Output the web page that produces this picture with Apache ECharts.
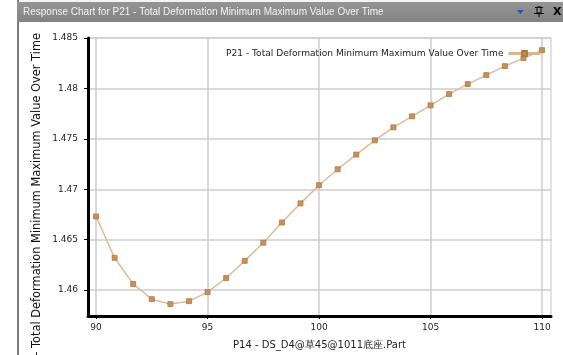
<!DOCTYPE html>
<html><head><meta charset="utf-8">
<script src="https://cdn.jsdelivr.net/npm/echarts@6/dist/echarts.min.js"></script>
<style>html,body{margin:0;padding:0;background:#fff}#c{width:563px;height:355px}</style>
</head><body><div id="c"></div>
<script>
const xValues = [90,90.8333,91.6667,92.5,93.3333,94.1667,95,95.8333,96.6667,97.5,98.3333,99.1667,100,100.8333,101.6667,102.5,103.3333,104.1667,105,105.8333,106.6667,107.5,108.3333,109.1667,110];
const yValues = [1.4673,1.4632,1.4606,1.4591,1.45861,1.4589,1.4598,1.4612,1.4629,1.4647,1.4667,1.4686,1.4704,1.47198,1.47344,1.47485,1.47614,1.47723,1.47832,1.47944,1.48043,1.48132,1.48221,1.48300,1.48379];
const xTicks = [90,95,100,105,110];
const yTicks = [1.46,1.465,1.47,1.475,1.48,1.485];
const seriesName = 'P21 - Total Deformation Minimum Maximum Value Over Time';
const xName = 'P14 - DS_D4@草45@1011底座.Part';
const windowTitle = 'Response Chart for P21 - Total Deformation Minimum Maximum Value Over Time';

const font = 'DejaVu Sans';
const chart = echarts.init(document.getElementById('c'), null, {renderer:'canvas'});
chart.setOption({
  animation:false,
  backgroundColor:'#fff',
  grid:{left:88,right:12,top:38,bottom:38,show:true,borderColor:'#c4c4c4',borderWidth:1,backgroundColor:'transparent'},
  legend:{
    show:true, right:16, top:44, align:'right', itemWidth:32, itemHeight:6, itemGap:8,
    textStyle:{fontFamily:font,fontSize:9.1,color:'#222'},
    lineStyle:{width:3,color:'#d9b690'},
    itemStyle:{color:'#c08e5a'},
    data:[{name:seriesName}]
  },
  xAxis:{
    type:'value', min:89.64, max:110.4,
    axisLine:{show:true,onZero:false,lineStyle:{color:'#000',width:3}},
    axisTick:{show:true,length:3,customValues:xTicks,lineStyle:{color:'#000',width:1}},
    axisLabel:{customValues:xTicks,margin:7,fontFamily:font,fontSize:9,color:'#222'},
    splitLine:{show:true,lineStyle:{color:'#cccccc',width:1.5}},
    name:xName, nameLocation:'middle', nameGap:24,
    nameTextStyle:{fontFamily:font,fontSize:10,color:'#222'}
  },
  yAxis:{
    type:'value', min:1.45743, max:1.485,
    axisLine:{show:true,onZero:false,lineStyle:{color:'#000',width:3}},
    axisTick:{show:true,length:4,customValues:yTicks,lineStyle:{color:'#000',width:1}},
    axisLabel:{customValues:yTicks,margin:10,fontFamily:font,fontSize:9,color:'#222',
      formatter:v=>String(+v.toFixed(3))},
    splitLine:{show:true,lineStyle:{color:'#cccccc',width:1.5}}
  },
  series:[{
    name:seriesName, type:'line',
    data:xValues.map((x,i)=>[x,yValues[i]]),
    smooth:false, symbol:'rect', symbolSize:5, showSymbol:true,
    lineStyle:{color:'#ddbb96',width:1.5},
    itemStyle:{color:'#c29262',borderColor:'#ab7b45',borderWidth:0.8},
    emphasis:{disabled:true}
  }],
  graphic:[
    {type:'text', x:37, y:33, rotation:Math.PI/2,
      style:{text:seriesName, fontFamily:font, fontSize:11.4, fill:'#111', align:'right', verticalAlign:'middle'}},
    {type:'rect', shape:{x:0,y:0,width:17,height:355}, style:{fill:'#fff'}},
    {type:'rect', shape:{x:17,y:0,width:546,height:2}, style:{fill:'#f4f4f4'}},
    {type:'rect', shape:{x:17,y:0,width:2,height:355}, style:{fill:'#7a7a7a'}},
    {type:'rect', shape:{x:17,y:2,width:546,height:20},
      style:{fill:new echarts.graphic.LinearGradient(0,0,0,1,[{offset:0,color:'#959595'},{offset:1,color:'#828282'}])}},
    {type:'text', x:23, y:12,
      style:{text:windowTitle, fontFamily:'Liberation Sans', fontSize:10, fill:'#f4f4f4', verticalAlign:'middle'}},
    {type:'polygon', shape:{points:[[517,10],[524,10],[520.5,14]]}, style:{fill:'#2a4fb0'}},
    {type:'rect', shape:{x:535,y:7,width:8,height:1}, style:{fill:'#000'}},
    {type:'rect', shape:{x:537,y:7,width:4,height:6}, style:{fill:'none',stroke:'#000',lineWidth:1}},
    {type:'rect', shape:{x:534,y:13,width:10,height:1}, style:{fill:'#000'}},
    {type:'rect', shape:{x:538.5,y:13,width:1,height:4}, style:{fill:'#000'}},
    {type:'text', x:553, y:12, style:{text:'X', fontFamily:'DejaVu Sans', fontSize:11, fontWeight:'bold', fill:'#000', verticalAlign:'middle'}}
  ]
});
</script></body></html>
